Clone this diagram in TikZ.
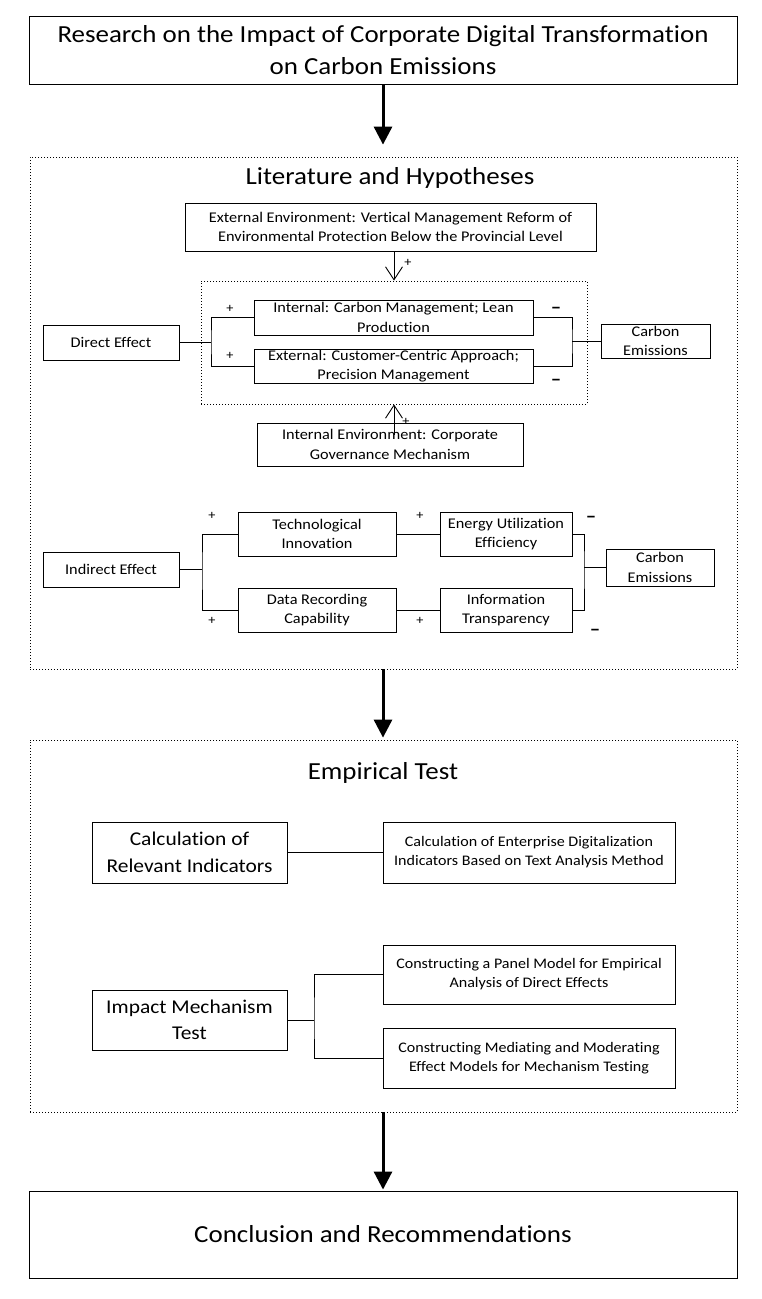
\documentclass[tikz,border=0pt]{standalone}
\usepackage{fontspec}
\setmainfont{Carlito}[FakeStretch=1.1,Ligatures=NoCommon]
\usetikzlibrary{arrows.meta}
\begin{document}
\begin{tikzpicture}[x=1pt,y=-1pt,
  box/.style={draw,line width=0.9pt,inner sep=0pt,align=center,font=\fontsize{14.8}{19.5}\selectfont},
  bigbox/.style={draw,line width=0.9pt,inner sep=0pt,align=center,font=\fontsize{24.5}{32}\selectfont},
  midbox/.style={draw,line width=0.9pt,inner sep=0pt,align=center,font=\fontsize{19.5}{26.5}\selectfont},
  smbox/.style={draw,line width=0.9pt,inner sep=0pt,align=center,font=\fontsize{14.6}{19}\selectfont},
  dotbox/.style={draw,line width=0.8pt,dash pattern=on 1pt off 2pt,inner sep=0pt},
  conn/.style={line width=0.9pt},
  bigarr/.style={line width=3pt,-{Triangle[length=18pt,width=18pt]}},
  openarr/.style={line width=0.9pt,-{Straight Barb[length=13pt,width=17pt,line width=0.9pt]}},
  sign/.style={inner sep=0pt,font=\fontsize{13}{13}\selectfont},
  neg/.style={inner sep=0pt,font=\fontsize{19}{19}\bfseries\selectfont},
  sectitle/.style={inner sep=0pt,font=\fontsize{24.5}{28}\selectfont}]
\useasboundingbox (0,0) rectangle (761,1299);
\fill[white] (0,0) rectangle (761,1299);

% title
\node[bigbox,minimum width=708pt,minimum height=68pt] (title) at (383,50)
  {Research on the Impact of Corporate Digital Transformation\\on Carbon Emissions};

% literature section
\node[dotbox,minimum width=707pt,minimum height=512pt] (lit) at (383.5,413) {};
\node[sectitle] (littitle) at (390,178) {Literature and Hypotheses};

\node[box,minimum width=411pt,minimum height=48pt] (extenv) at (390.5,227)
  {External Environment: Vertical Management Reform of\\Environmental Protection Below the Provincial Level};
\node[dotbox,minimum width=386pt,minimum height=123pt] (inner) at (394,342.5) {};
\node[box,minimum width=279pt,minimum height=35pt] (intbox) at (393.5,317.5)
  {Internal: Carbon Management; Lean\\Production};
\node[box,minimum width=279pt,minimum height=34pt] (extbox) at (393.5,366)
  {External: Customer-Centric Approach;\\Precision Management};
\node[box,minimum width=136pt,minimum height=35pt] (direct) at (111,342.5) {Direct Effect};
\node[box,minimum width=109pt,minimum height=34pt] (carbon1) at (655.5,341) {Carbon\\Emissions};
\node[box,minimum width=266pt,minimum height=43pt] (intenv) at (390,444.5)
  {Internal Environment: Corporate\\Governance Mechanism};

\draw[openarr] (inner.north |- extenv.south) -- (inner.north);
\draw[openarr] ([yshift=10pt]inner.south |- intenv.center) -- (inner.south);
\node[sign] (p0) at (408,263) {+};
\node[sign] (p00) at (406,422) {+};

\coordinate (bl) at (211,342.5);
\coordinate (br) at (572,341);
\draw[conn] (direct.east) -- (bl);
\draw[conn] (intbox.west) -| (bl) |- (extbox.west);
\draw[conn] (intbox.east) -| (br) |- (extbox.east);
\draw[conn] (br) -- (carbon1.west);
\node[sign] (p1) at (230,309) {+};
\node[sign] (p2) at (230,356) {+};
\node[neg] (m1) at (556,310) {–};
\node[neg] (m2) at (556,382) {–};

% indirect
\node[box,minimum width=136pt,minimum height=35pt] (indirect) at (111,569.5) {Indirect Effect};
\node[box,minimum width=158pt,minimum height=44pt] (tech) at (317,534) {Technological\\Innovation};
\node[box,minimum width=158pt,minimum height=44pt] (data) at (317,610) {Data Recording\\Capability};
\node[box,minimum width=132pt,minimum height=44pt] (energy) at (506,534) {Energy Utilization\\Efficiency};
\node[box,minimum width=132pt,minimum height=44pt] (info) at (506,610) {Information\\Transparency};
\node[box,minimum width=108pt,minimum height=37pt] (carbon2) at (660,567.5) {Carbon\\Emissions};
\coordinate (bl2) at (202,569.5);
\coordinate (br2) at (584,567.5);
\draw[conn] (indirect.east) -- (bl2);
\draw[conn] (tech.west) -| (bl2) |- (data.west);
\draw[conn] (tech.east) -- (energy.west);
\draw[conn] (data.east) -- (info.west);
\draw[conn] (energy.east) -| (br2) |- (info.east);
\draw[conn] (br2) -- (carbon2.west);
\node[sign] (p3) at (212,516) {+};
\node[sign] (p4) at (212,621) {+};
\node[sign] (p5) at (420,516) {+};
\node[sign] (p6) at (420,621) {+};
\node[neg] (m3) at (591,519) {–};
\node[neg] (m4) at (595,632) {–};

% empirical
\node[dotbox,minimum width=707pt,minimum height=372pt] (emp) at (383.5,926) {};
\node[sectitle] (emptitle) at (383,773) {Empirical Test};
\node[midbox,minimum width=195pt,minimum height=61pt] (calc) at (189.5,852.5) {Calculation of\\Relevant Indicators};
\node[smbox,minimum width=292pt,minimum height=61pt] (calcE) at (529,852.5)
  {Calculation of Enterprise Digitalization\\Indicators Based on Text Analysis Method};
\node[midbox,minimum width=195pt,minimum height=60pt] (impact) at (189.5,1020) {Impact Mechanism\\Test};
\node[smbox,minimum width=292pt,minimum height=59pt] (panel) at (529,974.5)
  {Constructing a Panel Model for Empirical\\Analysis of Direct Effects};
\node[smbox,minimum width=292pt,minimum height=60pt] (medi) at (529,1058)
  {Constructing Mediating and Moderating\\Effect Models for Mechanism Testing};
\coordinate (bl3) at (314,1020);
\draw[conn] (calc.east) -- (calc.east -| calcE.west);
\draw[conn] (impact.east) -- (bl3);
\draw[conn] (panel.west) -| (bl3) |- (medi.west);

% conclusion
\node[bigbox,minimum width=708pt,minimum height=87pt] (concl) at (383,1234.5) {Conclusion and Recommendations};

% main arrows
\draw[bigarr,shorten >=12pt] (title.south) -- (title.south |- lit.north);
\draw[bigarr,shorten >=2pt] (lit.south -| title.south) -- (emp.north -| title.south);
\draw[bigarr,shorten >=1pt] (emp.south -| title.south) -- (concl.north -| title.south);
\end{tikzpicture}
\end{document}
